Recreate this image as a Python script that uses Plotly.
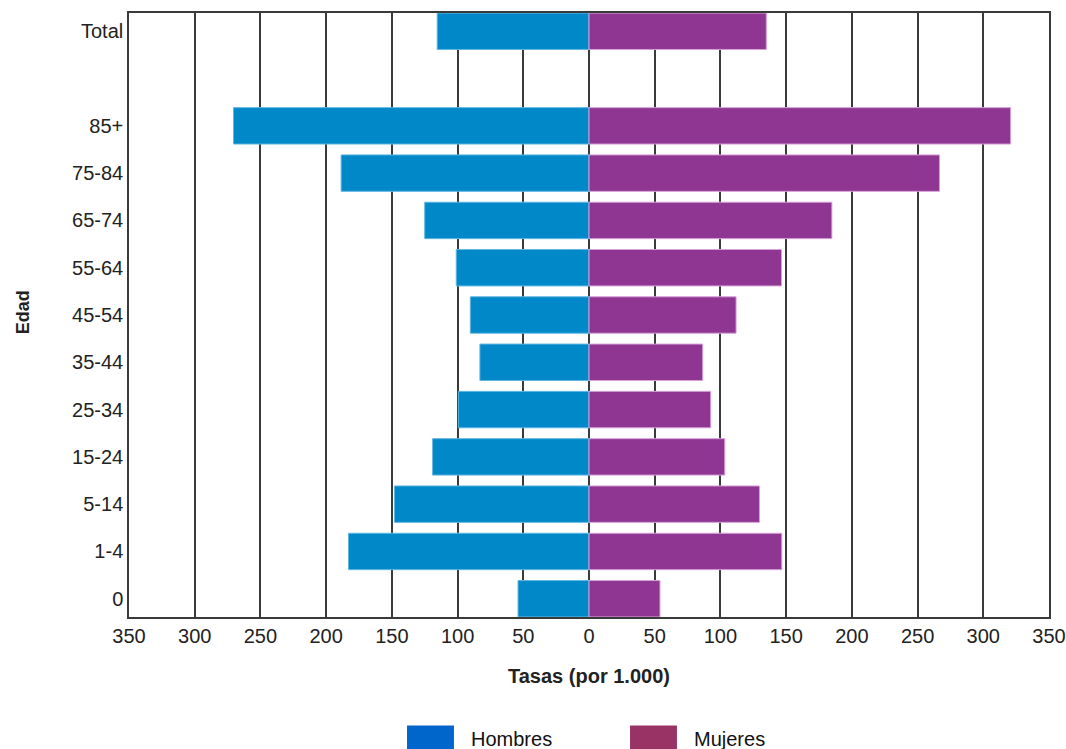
import plotly.graph_objects as go

# Age groups from bottom to top (blank slot separates Total)
grupos = ['0', '1-4', '5-14', '15-24', '25-34', '35-44', '45-54',
          '55-64', '65-74', '75-84', '85+', ' ', 'Total']

# Rates per 1.000 (None = empty separator row)
hombres = [54, 183, 148, 119, 99.4, 83, 90.3, 101, 125, 188.6, 270.5, None, 115.5]
mujeres = [54, 146.7, 129.7, 103.3, 92.6, 86.5, 111.9, 146.5, 184.8, 266.7, 320.8, None, 134.9]

ticks = [-350, -300, -250, -200, -150, -100, -50, 0, 50, 100, 150, 200, 250, 300, 350]
tick_text = [str(abs(t)) for t in ticks]

tick_font = dict(family='Liberation Sans, Arial', size=20, color='#222222')

fig = go.Figure()
fig.add_trace(go.Bar(
    x=[-v if v is not None else None for v in hombres],
    y=grupos,
    orientation='h',
    name='Hombres',
    width=0.77,
    marker=dict(color='#0088c8', line=dict(color='#5fb6e2', width=1)),
    showlegend=False))
fig.add_trace(go.Bar(
    x=mujeres,
    y=grupos,
    orientation='h',
    name='Mujeres',
    width=0.77,
    marker=dict(color='#8e3691', line=dict(color='#d6a0d8', width=1)),
    showlegend=False))

fig.update_layout(
    width=1066, height=749,
    barmode='overlay',
    plot_bgcolor='white',
    paper_bgcolor='white',
    margin=dict(l=129, r=17, t=13, b=132),
    font=dict(family='Liberation Sans, Arial', color='#222222'),
    xaxis=dict(range=[-350, 350], tickvals=ticks, ticktext=tick_text,
               tickfont=tick_font, ticklabeloverflow='allow', automargin=False,
               showgrid=True, gridcolor='#3a3a3a', gridwidth=1.5,
               zeroline=False, showline=True, linecolor='#3a3a3a', linewidth=1.5,
               mirror=True, ticks=''),
    yaxis=dict(type='category', categoryorder='array', categoryarray=grupos,
               range=[-0.386, 12.386], tickfont=tick_font, showgrid=False,
               automargin=False,
               zeroline=False, showline=True, linecolor='#3a3a3a', linewidth=1.5,
               mirror=True, ticks=''),
)

# Axis titles
fig.add_annotation(text='<b>Tasas (por 1.000)</b>', xref='paper', yref='paper',
                   x=0.5, y=-0.098, xanchor='center', yanchor='middle',
                   showarrow=False, font=dict(size=20, family='Liberation Sans, Arial'))
fig.add_annotation(text='<b>Edad</b>', xref='paper', yref='paper',
                   x=-0.115, y=0.505, xanchor='center', yanchor='middle', textangle=-90,
                   showarrow=False, font=dict(size=18, family='Liberation Sans, Arial'))

# Legend drawn below the plot
leyenda = [('Hombres', '#0066cc', 0.3022, 0.3695), ('Mujeres', '#993366', 0.5446, 0.6115)]
for nombre, color, x0, xt in leyenda:
    fig.add_shape(type='rect', xref='paper', yref='paper',
                  x0=x0, x1=x0 + 0.051, y0=-0.1795, y1=-0.24,
                  fillcolor=color, line=dict(width=0))
    fig.add_annotation(text=nombre, xref='paper', yref='paper',
                       x=xt, y=-0.2027, xanchor='left', yanchor='middle',
                       showarrow=False, font=dict(size=20, color='#111111'))

# drop the default page margin so the figure fills the window
fig.write_html('out.html', config={'displayModeBar': False},
               post_script="document.body.style.margin='0';document.body.style.overflow='hidden';")
